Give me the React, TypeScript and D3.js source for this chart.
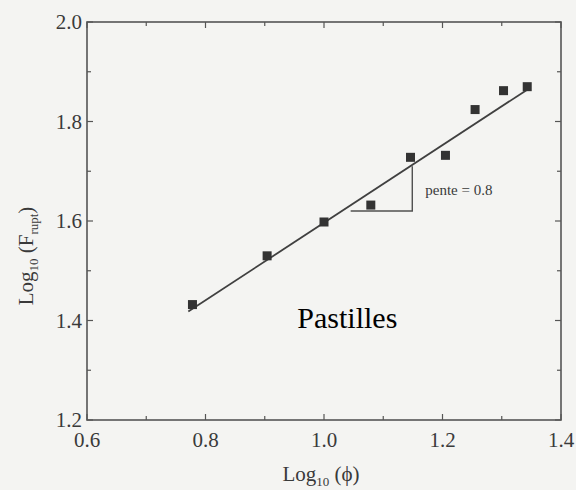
import React, { useEffect, useRef } from 'react'
import * as d3 from 'd3'

// données (log10 phi, log10 F rupt)
const logPhi = [0.778, 0.904, 1.0, 1.079, 1.146, 1.205, 1.255, 1.303, 1.343]
const logF = [1.432, 1.53, 1.598, 1.632, 1.728, 1.732, 1.824, 1.862, 1.87]
const fitX = [0.771, 1.343]
const fitY = [1.418, 1.864]
const xTicks = [0.6, 0.8, 1.0, 1.2, 1.4]
const yTicks = [1.2, 1.4, 1.6, 1.8, 2.0]
const minorX = [0.7, 0.9, 1.1, 1.3]
const minorY = [1.3, 1.5, 1.7, 1.9]
const slopeTri = { x0: 1.045, x1: 1.149, y0: 1.62, y1: 1.71 }

const App = () => {
  const ref = useRef<SVGSVGElement | null>(null)

  useEffect(() => {
    const svg = d3.select(ref.current)
    svg.selectAll('*').remove()
    const W = 576
    const H = 490
    const margin = { top: 22, right: 15, bottom: 70, left: 87 }
    const width = W - margin.left - margin.right
    const height = H - margin.top - margin.bottom

    const x = d3.scaleLinear().domain([0.6, 1.4]).range([0, width])
    const y = d3.scaleLinear().domain([1.2, 2.0]).range([height, 0])

    svg.append('rect').attr('width', W).attr('height', H).attr('fill', '#f4f4f2')

    const g = svg.append('g').attr('transform', `translate(${margin.left},${margin.top})`)
    const ink = '#3a3a3a'
    const font = 'Liberation Serif, Times New Roman, serif'

    // cadre
    g.append('rect')
      .attr('width', width)
      .attr('height', height)
      .attr('fill', 'none')
      .attr('stroke', '#555')
      .attr('stroke-width', 1.6)

    // graduations vers l'intérieur, sur les 4 côtés
    const tick = (vals: number[], len: number) => {
      vals.forEach(v => {
        g.append('line').attr('x1', x(v)).attr('x2', x(v)).attr('y1', height).attr('y2', height - len)
          .attr('stroke', '#555').attr('stroke-width', 1.2)
        g.append('line').attr('x1', x(v)).attr('x2', x(v)).attr('y1', 0).attr('y2', len)
          .attr('stroke', '#555').attr('stroke-width', 1.2)
      })
    }
    const tickY = (vals: number[], len: number) => {
      vals.forEach(v => {
        g.append('line').attr('x1', 0).attr('x2', len).attr('y1', y(v)).attr('y2', y(v))
          .attr('stroke', '#555').attr('stroke-width', 1.2)
        g.append('line').attr('x1', width).attr('x2', width - len).attr('y1', y(v)).attr('y2', y(v))
          .attr('stroke', '#555').attr('stroke-width', 1.2)
      })
    }
    tick(xTicks, 6)
    tick(minorX, 4)
    tickY(yTicks, 6)
    tickY(minorY, 4)

    // étiquettes des axes
    g.selectAll('.xl')
      .data(xTicks)
      .enter()
      .append('text')
      .attr('x', d => x(d))
      .attr('y', height + 27)
      .attr('text-anchor', 'middle')
      .attr('font-family', font)
      .attr('font-size', 21)
      .attr('fill', ink)
      .text(d => d3.format('.1f')(d))

    g.selectAll('.yl')
      .data(yTicks)
      .enter()
      .append('text')
      .attr('x', -5)
      .attr('y', d => y(d) + 7)
      .attr('text-anchor', 'end')
      .attr('font-family', font)
      .attr('font-size', 21)
      .attr('fill', ink)
      .text(d => d3.format('.1f')(d))

    // droite d'ajustement
    const line = d3.line<number>().x((d, i) => x(d)).y((d, i) => y(fitY[i]))
    g.append('path')
      .attr('d', line(fitX))
      .attr('fill', 'none')
      .attr('stroke', '#404040')
      .attr('stroke-width', 1.8)

    // triangle de pente
    g.append('path')
      .attr('d', `M${x(slopeTri.x0)},${y(slopeTri.y0)}H${x(slopeTri.x1)}V${y(slopeTri.y1)}`)
      .attr('fill', 'none')
      .attr('stroke', '#505050')
      .attr('stroke-width', 1.4)

    g.append('text')
      .attr('x', x(slopeTri.x1) + 13)
      .attr('y', y(slopeTri.y0) - 16)
      .attr('font-family', font)
      .attr('font-size', 15)
      .attr('fill', ink)
      .text('pente = 0.8')

    // points
    const s = 9
    g.selectAll('.pt')
      .data(logPhi)
      .enter()
      .append('rect')
      .attr('x', d => x(d) - s / 2)
      .attr('y', (d, i) => y(logF[i]) - s / 2)
      .attr('width', s)
      .attr('height', s)
      .attr('fill', '#333')

    g.append('text')
      .attr('x', x(0.955))
      .attr('y', y(1.4) + 7)
      .attr('font-family', font)
      .attr('font-size', 30)
      .attr('fill', '#000')
      .text('Pastilles')

    // titres des axes
    const xt = svg.append('text')
      .attr('x', margin.left + width / 2 - 3)
      .attr('y', 481)
      .attr('text-anchor', 'middle')
      .attr('font-family', font)
      .attr('font-size', 21)
      .attr('fill', ink)
    xt.append('tspan').text('Log')
    xt.append('tspan').attr('font-size', 13).attr('dy', 5).text('10')
    xt.append('tspan').attr('dy', -5).text(' (\u03d5)')

    const yt = svg.append('text')
      .attr('transform', `translate(33,${margin.top + height / 2 + 35}) rotate(-90)`)
      .attr('text-anchor', 'middle')
      .attr('font-family', font)
      .attr('font-size', 21)
      .attr('fill', ink)
    yt.append('tspan').text('Log')
    yt.append('tspan').attr('font-size', 13).attr('dy', 5).text('10')
    yt.append('tspan').attr('dy', -5).text(' (F')
    yt.append('tspan').attr('font-size', 13).attr('dy', 5).text('rupt')
    yt.append('tspan').attr('dy', -5).text(')')
  }, [])

  return (
    <div style={{ position: 'absolute', left: 0, top: 0 }}>
      <svg ref={ref} width={576} height={490} style={{ display: 'block' }}></svg>
    </div>
  )
}

export default App
